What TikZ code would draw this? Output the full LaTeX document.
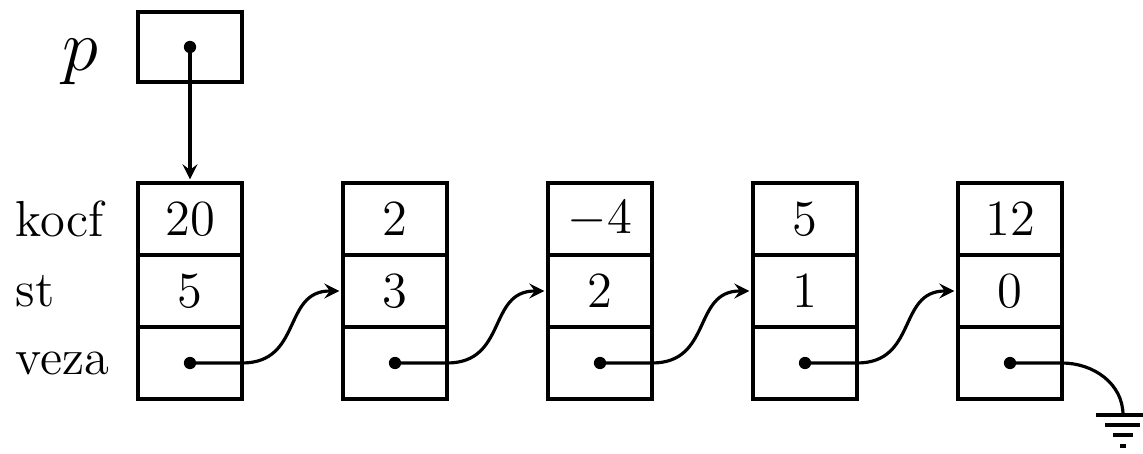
\documentclass[tikz,border=0pt]{standalone}
\usepackage{amsmath}
\usepackage{tikz}
\usetikzlibrary{arrows, positioning}

\begin{document}
\begin{tikzpicture}[
        font=\Large,
        cell/.style={rectangle, draw, line width=1.1pt, outer sep=0pt, minimum width=1.04cm, minimum height=0.72cm},
        ptrbox/.style={rectangle, draw, line width=1.1pt, outer sep=0pt, minimum width=1.04cm, minimum height=0.70cm},
        fieldname/.style={anchor=west, inner sep=0pt},
        link/.style={line width=0.9pt, ->, >=stealth, shorten >=1pt},
        ptrdot/.style={fill, circle, inner sep=0pt, minimum size=3.5pt}
    ]
    \useasboundingbox (0,0) rectangle (11.43,4.53);

    % Records
    \node (k1) [cell] at (1.90,2.34) {20};
    \node (s1) [cell, below=0pt of k1] {5};
    \node (v1) [cell, below=0pt of s1] {};

    \node (k2) [cell, right=1.01cm of k1] {2};
    \node (s2) [cell, below=0pt of k2] {3};
    \node (v2) [cell, below=0pt of s2] {};

    \node (k3) [cell, right=1.01cm of k2] {$-4$};
    \node (s3) [cell, below=0pt of k3] {2};
    \node (v3) [cell, below=0pt of s3] {};

    \node (k4) [cell, right=1.01cm of k3] {5};
    \node (s4) [cell, below=0pt of k4] {1};
    \node (v4) [cell, below=0pt of s4] {};

    \node (k5) [cell, right=1.01cm of k4] {12};
    \node (s5) [cell, below=0pt of k5] {0};
    \node (v5) [cell, below=0pt of s5] {};

    % Field names
    \node (kocf) [fieldname] at (0.15,0 |- k1) {kocf};
    \node (st) [fieldname] at (kocf.west |- s1) {st};
    \node (veza) [fieldname] at (kocf.west |- v1) {veza};

    % Head pointer
    \node (pbox) [ptrbox, above=1.01cm of k1] {};
    \node (plabel) [left=0.27cm of pbox, yshift=-0.15cm, font=\huge] {$p$};
    \node (pdot) [ptrdot] at (pbox.center) {};
    \draw [link] (pdot.center) -- (k1.north);

    % Links
    \node (d1) [ptrdot] at (v1.center) {};
    \node (d2) [ptrdot] at (v2.center) {};
    \node (d3) [ptrdot] at (v3.center) {};
    \node (d4) [ptrdot] at (v4.center) {};
    \node (d5) [ptrdot] at (v5.center) {};
    \draw [link] (d1.center) -- (v1.east) to[out=0, in=180, looseness=1.25] (s2.west);
    \draw [link] (d2.center) -- (v2.east) to[out=0, in=180, looseness=1.25] (s3.west);
    \draw [link] (d3.center) -- (v3.east) to[out=0, in=180, looseness=1.25] (s4.west);
    \draw [link] (d4.center) -- (v4.east) to[out=0, in=180, looseness=1.25] (s5.west);

    % Nil: ground
    \coordinate (gnd) at (11.23,0.38);
    \draw [line width=0.9pt] (d5.center) -- (v5.east) to[out=0, in=90] (gnd);
    \draw [line width=0.9pt] ([xshift=-0.27cm]gnd) -- ([xshift=0.25cm]gnd);
    \draw [line width=0.9pt] ([xshift=-0.18cm, yshift=-0.10cm]gnd) -- ([xshift=0.17cm, yshift=-0.10cm]gnd);
    \draw [line width=0.9pt] ([xshift=-0.10cm, yshift=-0.20cm]gnd) -- ([xshift=0.10cm, yshift=-0.20cm]gnd);
    \draw [line width=0.9pt] ([xshift=-0.03cm, yshift=-0.31cm]gnd) -- ([xshift=0.03cm, yshift=-0.31cm]gnd);

\end{tikzpicture}
\end{document}
